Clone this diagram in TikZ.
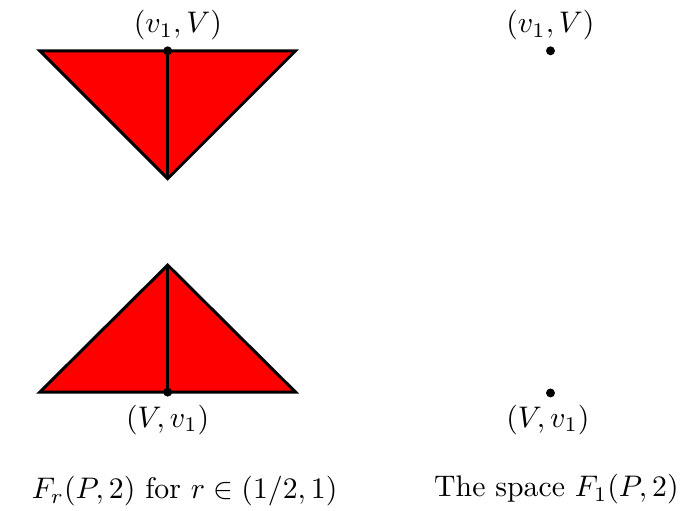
\documentclass[tikz,border=0pt]{standalone}
\usepackage{tikz}

\begin{document}
\begin{tikzpicture}[
  face/.style={
    draw,
    fill=red,
    line width=1pt
  },
  edge/.style={line width=1pt},
  vertex/.style={circle,fill,inner sep=0pt,minimum size=3pt}
]
  \useasboundingbox (0,0) rectangle (8.1,6.03);

  % Upper piece of F_r: a triangle hanging from (v_1,V).
  \coordinate (upL) at (0.47,5.43);
  \coordinate (upR) at (3.49,5.43);
  \coordinate (upTip) at (1.98,3.92);
  \draw[face] (upL) -- (upR) -- (upTip) -- cycle;
  \node[vertex] (upV) at (1.98,5.43) {};
  \draw[edge] (upV.center) -- (upTip);
  \node (upLab) at (2.1,5.73) {$(v_1,V)$};

  % Lower piece, mirrored, resting on (V,v_1).
  \coordinate (loL) at (0.47,1.40);
  \coordinate (loR) at (3.49,1.40);
  \coordinate (loTip) at (1.98,2.90);
  \draw[face] (loL) -- (loR) -- (loTip) -- cycle;
  \node[vertex] (loV) at (1.98,1.40) {};
  \draw[edge] (loTip) -- (loV.center);
  \node (loLab) at (1.98,1.07) {$(V,v_1)$};

  % At r=1 only the two points are left.
  \node[vertex] (ptTop) at (6.50,5.43) {};
  \node (ptTopLab) at (6.50,5.73) {$(v_1,V)$};
  \node[vertex] (ptBot) at (6.50,1.39) {};
  \node (ptBotLab) at (6.47,1.07) {$(V,v_1)$};

  \node (capLeft) at (2.18,0.23) {$F_r(P,2)$ for $r\in(1/2,1)$};
  \node (capRight) at (6.57,0.25) {The space $F_1(P,2)$};
\end{tikzpicture}
\end{document}
